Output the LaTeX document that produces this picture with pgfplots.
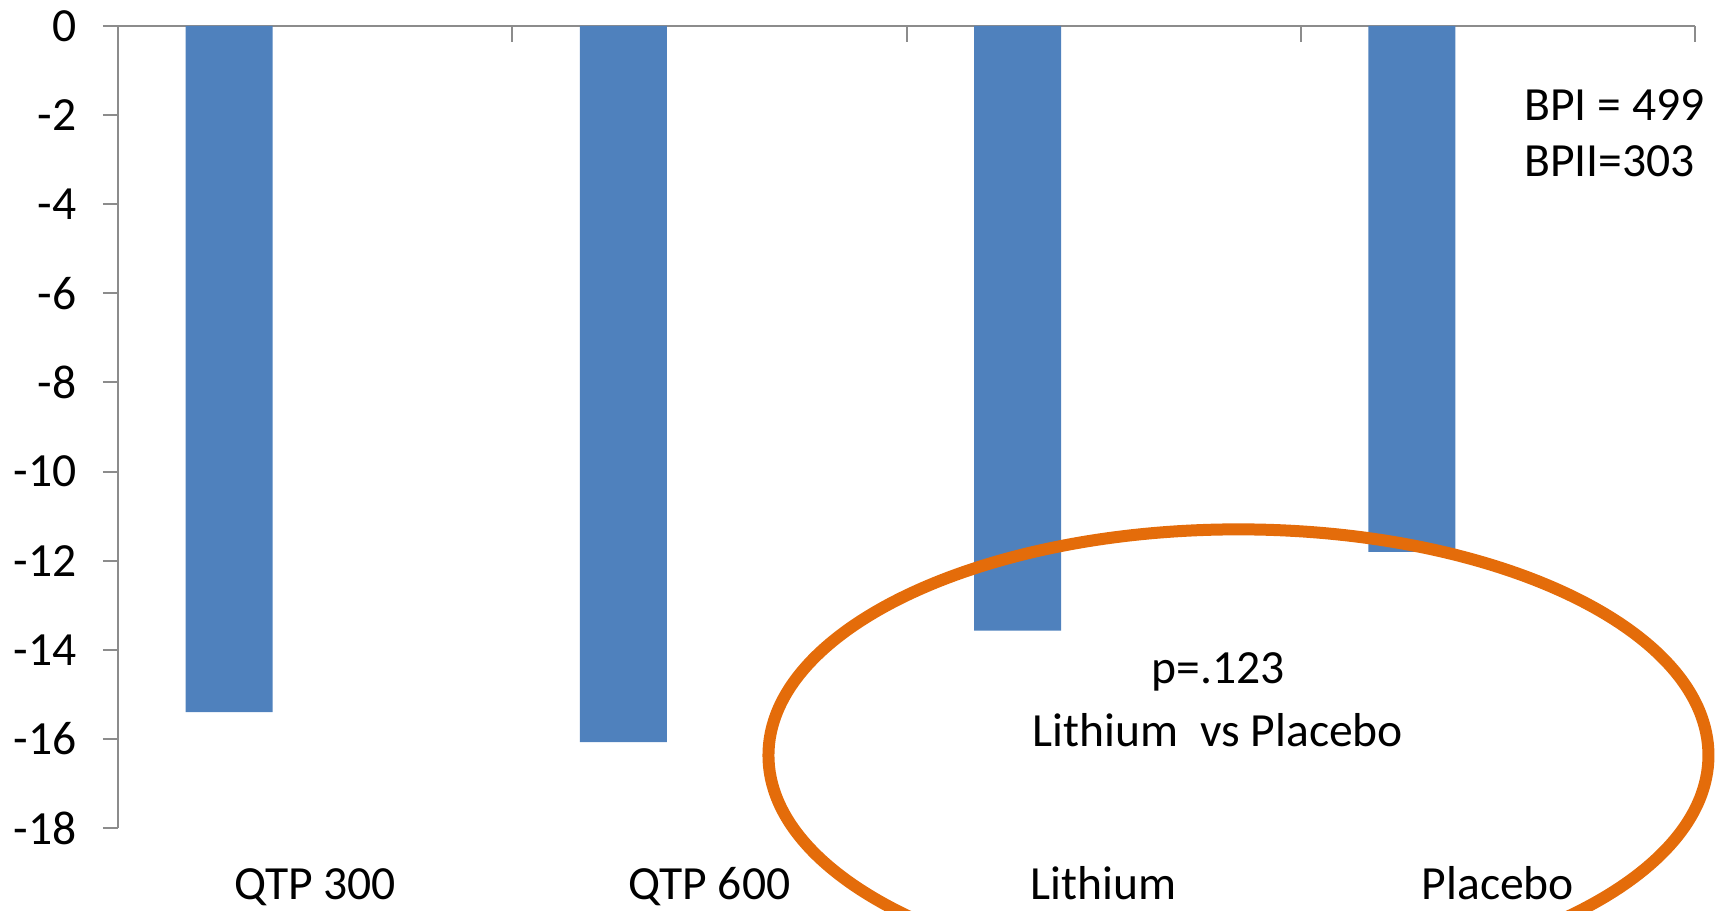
\documentclass[border=0pt]{standalone}
\usepackage{pgfplots}
\pgfplotsset{compat=1.18}
\usepackage{fontspec}
\setmainfont{Carlito}
\definecolor{barblue}{HTML}{4F81BD}
\definecolor{ringorange}{HTML}{E46C0A}
\definecolor{axgray}{HTML}{8C8C8C}
\begin{document}
\begin{tikzpicture}
\useasboundingbox (0,0) rectangle (858.5pt,455pt);
\clip (0,0) rectangle (858.5pt,455pt);
\begin{axis}[
  at={(59pt,41pt)}, anchor=south west,
  scale only axis, width=788.5pt, height=401pt,
  xmin=-0.5, xmax=3.5, ymin=-18, ymax=0,
  axis x line*=top, axis y line*=left,
  axis line style={axgray, line width=1pt},
  xtick={0,1,2,3},
  xticklabels={QTP 300, QTP 600, Lithium, Placebo},
  xtick pos=right,
  major x tick style={draw=none},
  minor xtick={-0.5,0.5,1.5,2.5,3.5},
  minor tick length=8pt,
  minor x tick style={axgray, line width=1pt},
  ytick={-18,-16,...,0},
  ytick pos=left, yticklabel pos=left,
  ytick align=outside,
  major tick length=7.5pt,
  major y tick style={axgray, line width=1pt},
  tick label style={font=\fontsize{23.8}{28}\selectfont, text=black},
  /pgf/number format/assume math mode=true,
  xticklabel style={anchor=base, yshift=-436.5pt},
  yticklabel style={anchor=east, inner sep=0pt, xshift=-13pt},
  clip=false,
]
\addplot[ybar, bar width=43.5pt, bar shift=-43pt, fill=barblue, draw=none]
  coordinates {(0,-15.40) (1,-16.07) (2,-13.57) (3,-11.80)};
\draw[ringorange, line width=6pt] (axis cs:2.342,-16.37) ellipse [x radius=235pt, y radius=113pt];
\node[font=\fontsize{23.8}{28}\selectfont] at (axis cs:2.29,-14.50) {p=.123};
\node[font=\fontsize{23.8}{28}\selectfont] at (axis cs:2.29,-15.80) {Lithium\ \ vs Placebo};
\node[anchor=west, inner sep=0pt, font=\fontsize{23.8}{28}\selectfont] at (axis cs:3.066,-1.77) {BPI = 499};
\node[anchor=west, inner sep=0pt, font=\fontsize{23.8}{28}\selectfont] at (axis cs:3.066,-3.03) {BPII=303};
\end{axis}
\end{tikzpicture}
\end{document}
